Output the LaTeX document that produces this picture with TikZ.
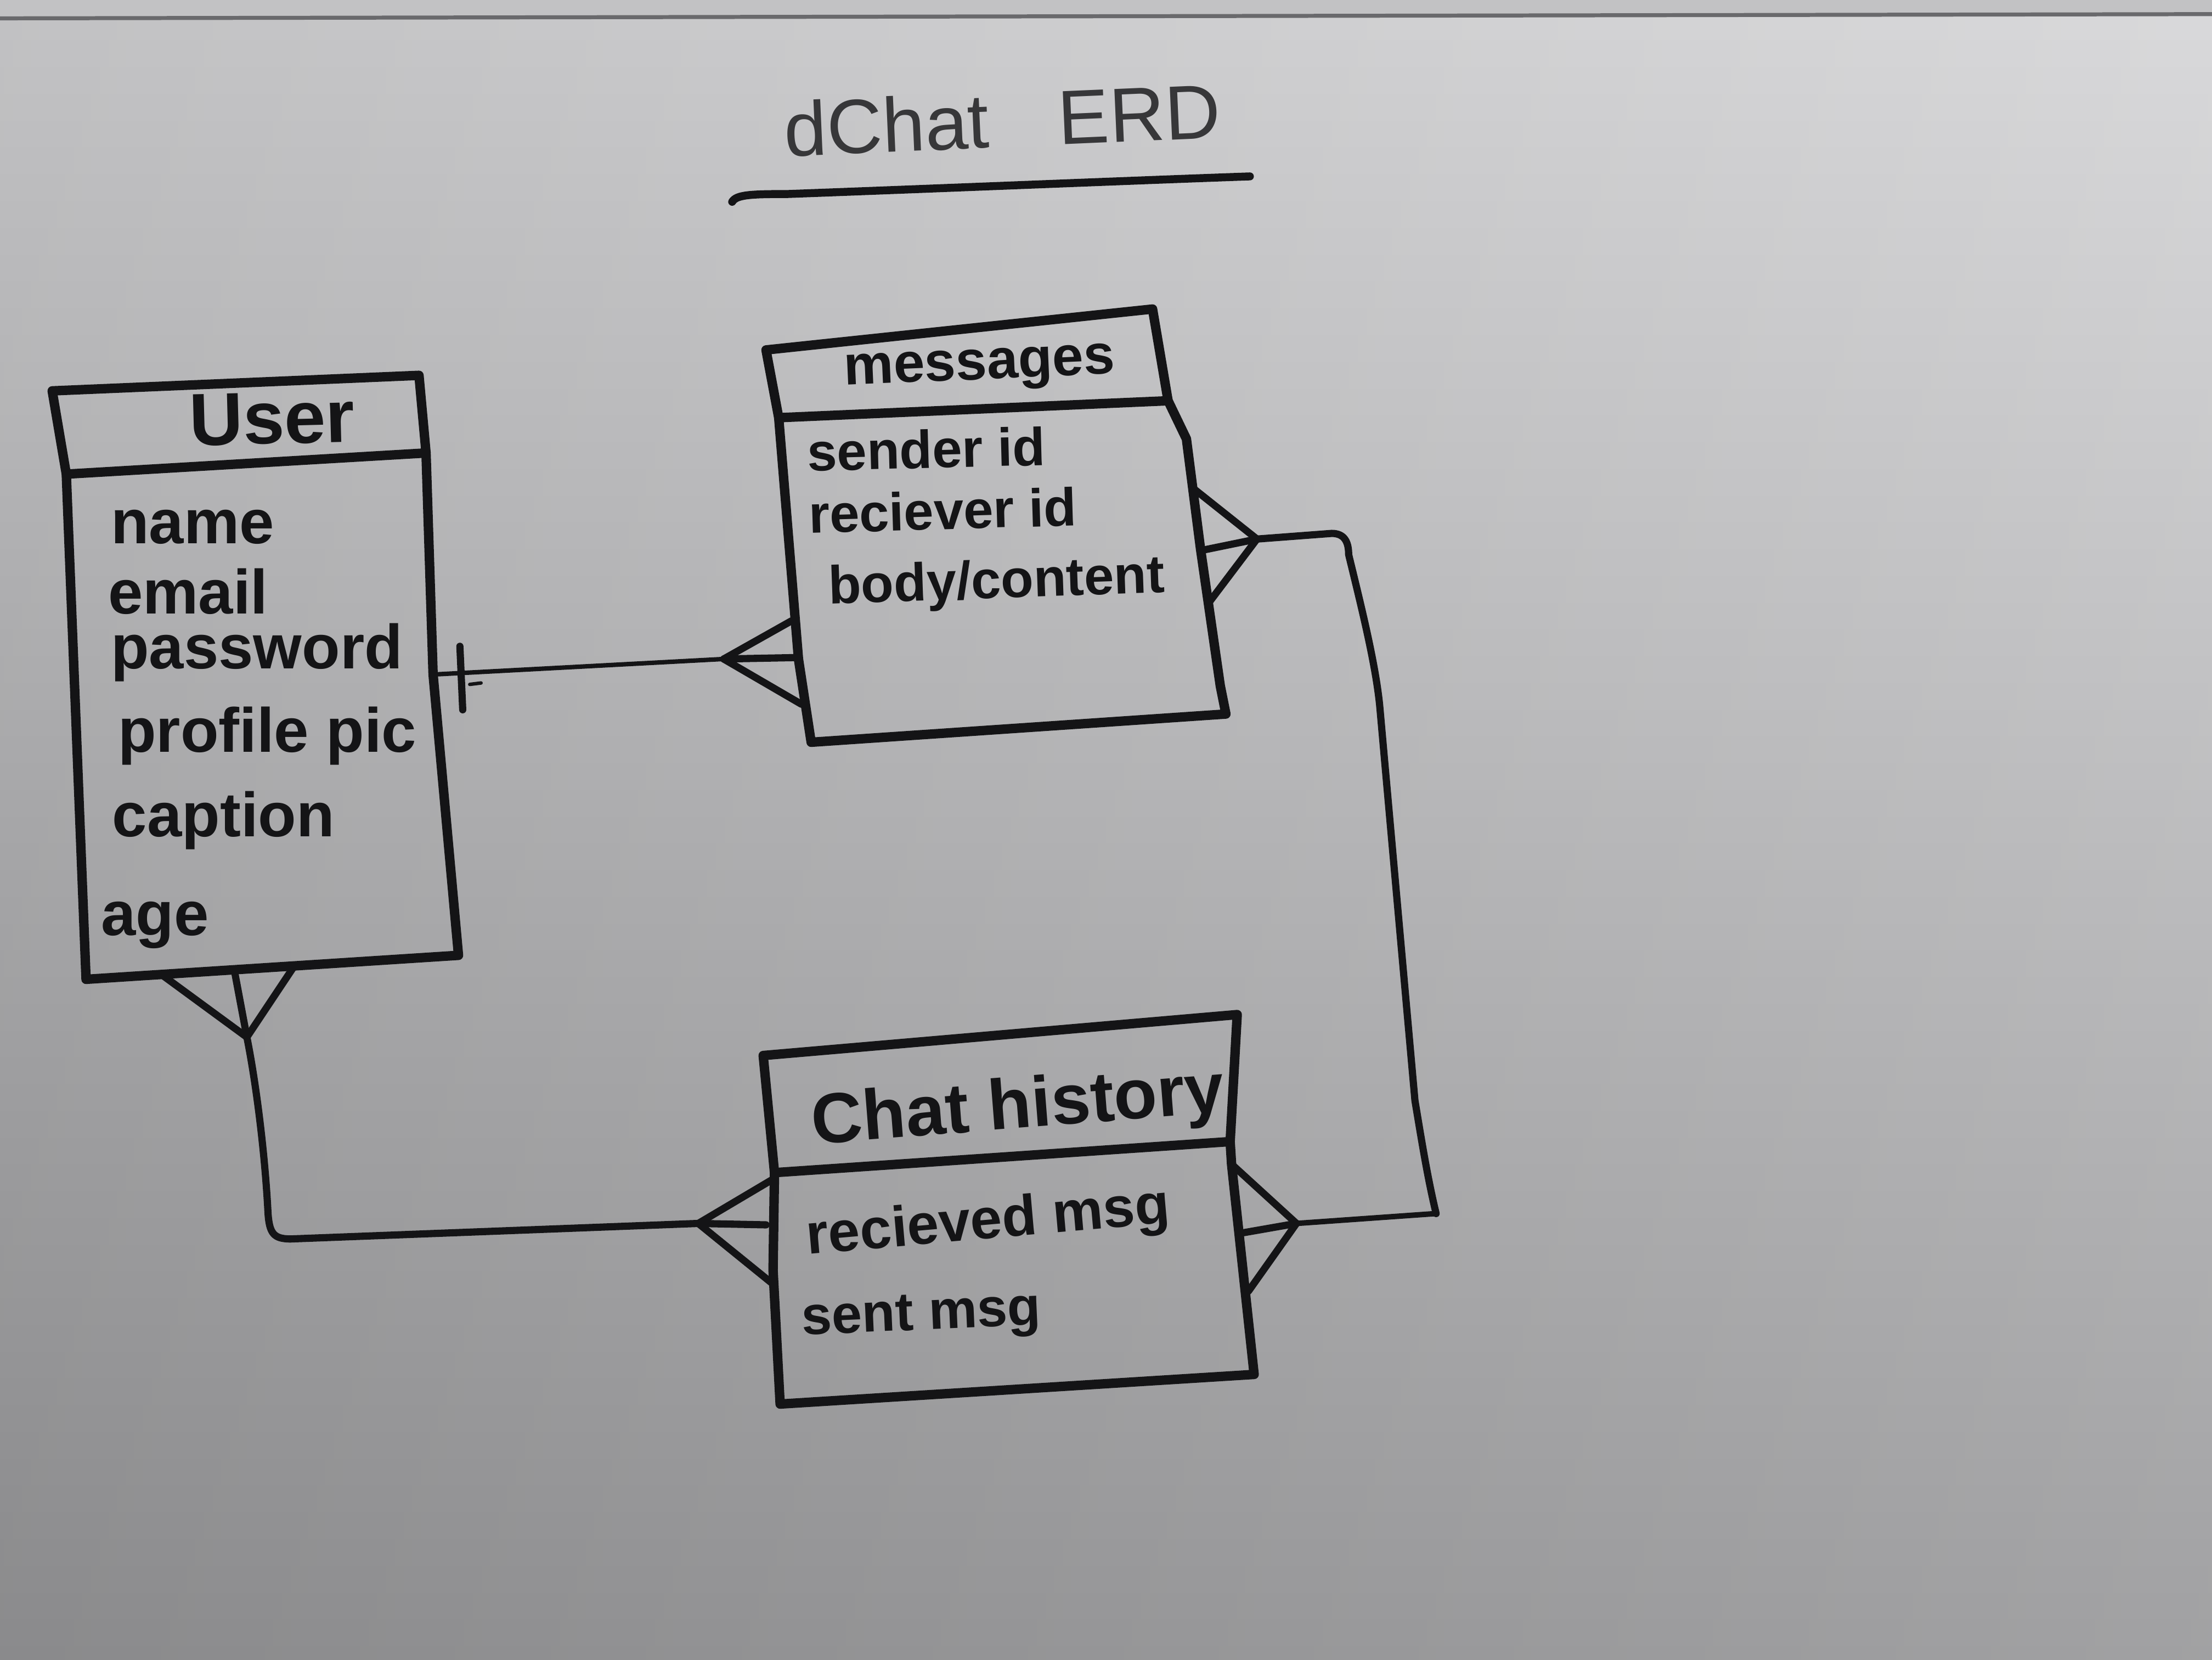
\documentclass[tikz,border=0pt]{standalone}
\usepackage{fontspec}
\setmainfont{Liberation Sans}
\definecolor{ink}{RGB}{20,20,22}
\definecolor{bgTop}{RGB}{214,214,216}
\definecolor{bgMid}{RGB}{200,200,202}
\definecolor{bgBot}{RGB}{152,152,154}
\definecolor{frameC}{RGB}{105,105,108}
\definecolor{frameTop}{RGB}{194,194,196}
\newcommand{\fsz}[1]{\fontsize{#1}{#1}\selectfont}
\begin{document}
\begin{tikzpicture}[x=0.1mm,y=-0.1mm,line cap=round,line join=round,
  box/.style={draw=ink,line width=1.9pt},
  link/.style={draw=ink,line width=1.45pt},
  thinlink/.style={draw=ink,line width=0.9pt},
  btxt/.style={anchor=base west,inner sep=0pt,text=ink,font=\bfseries\fsz{#1}},
  rtxt/.style={anchor=base west,inner sep=0pt,text=ink!85,font=\fsz{#1}}]
\useasboundingbox (0,0) rectangle (1568,1176);
% whiteboard background
\shade[top color=bgTop,middle color=bgMid,bottom color=bgBot] (0,0) rectangle (1568,1176);
\shade[left color=black,right color=white,opacity=0.09] (0,0) rectangle (1568,1176);
\fill[frameTop] (0,0) rectangle (1568,11);
\draw[frameC,line width=0.8pt] (0,13) -- (1568,10);

% ---------- title ----------
\node[rtxt=15.5,rotate=2.5] (title) at (556,111) {dChat\hspace{0.9em}ERD};
\coordinate (UL-a) at (519,143);
\coordinate (UL-b) at (886,125);
\draw[link,line width=1.6pt] (UL-a) .. controls (522,138) and (532,137.5) .. (558,137.5)
  .. controls (680,133) and (800,128) .. (UL-b);

% ---------- User ----------
\coordinate (U-tl) at (37,277);
\coordinate (U-tr) at (297,266);
\coordinate (U-hr) at (302,321);
\coordinate (U-r) at (307,478);
\coordinate (U-br) at (325,677);
\coordinate (U-bl) at (61,694);
\coordinate (U-hl) at (47,336);
\draw[box] (U-tl) -- (U-tr) -- (U-hr) -- (U-r) -- (U-br) -- (U-bl) -- (U-hl) -- cycle;
\draw[box] (U-hl) -- (U-hr);
\node[btxt=15,rotate=1.5] (U-title) at (134,316) {User};
\node[btxt=12.6] (U-a1) at (78,385) {name};
\node[btxt=12.6] (U-a2) at (76,435) {email};
\node[btxt=12.6] (U-a3) at (78,474) {password};
\node[btxt=12.6] (U-a4) at (83,533) {profile pic};
\node[btxt=12.6] (U-a5) at (79,593) {caption};
\node[btxt=12.6] (U-a6) at (71,663) {age};

% ---------- messages ----------
\coordinate (M-tl) at (543,248);
\coordinate (M-tr) at (817,219);
\coordinate (M-hr) at (828,284);
\coordinate (M-hl) at (552,296);
\draw[box] (M-tl) -- (M-tr) -- (M-hr) -- (841,311) -- (851,389) -- (865,486) -- (869,506)
  -- (575,526) -- (566,467) -- (M-hl) -- cycle;
\draw[box] (M-hl) -- (M-hr);
\node[btxt=11.3,rotate=2.5] (M-title) at (598,273) {messages};
\node[btxt=10.8,rotate=1.5] (M-a1) at (572,334) {sender id};
\node[btxt=10.8,rotate=1.7] (M-a2) at (573,378) {reciever id};
\node[btxt=10.8,rotate=2] (M-a3) at (587,428) {body/content};

% ---------- Chat history ----------
\coordinate (C-tl) at (541,748);
\coordinate (C-tr) at (877,719);
\coordinate (C-hr) at (872,809);
\coordinate (C-hl) at (549,831);
\draw[box] (C-tl) -- (C-tr) -- (C-hr) -- (873,825) -- (889,974) -- (553,995) -- (548,900) -- (C-hl) -- cycle;
\draw[box] (C-hl) -- (C-hr);
\node[btxt=14.3,rotate=4.5] (C-title) at (576,811) {Chat history};
\node[btxt=11.5,rotate=5] (C-a1) at (572,889) {recieved msg};
\node[btxt=11,rotate=2.5] (C-a2) at (568,946) {sent msg};

% ---------- User -- messages (one to many) ----------
\coordinate (UM-apex) at (513,467);
\coordinate (UM-p1) at (561,440);
\coordinate (UM-p2) at (564,466);
\coordinate (UM-p3) at (568,499);
\coordinate (UM-b1) at (326,458);
\coordinate (UM-b2) at (328,503);
\draw[thinlink] (U-r) -- (UM-apex);
\draw[link] (UM-p1) -- (UM-apex) -- (UM-p3);
\draw[link] (UM-apex) -- (UM-p2);
\draw[link] (UM-b1) -- (UM-b2);
\draw[thinlink,line width=0.7pt] (333,485) -- (341,484);

% ---------- User -- Chat history (many to many) ----------
\coordinate (UC-apex) at (175,735);
\coordinate (UC-p1) at (115,691);
\coordinate (UC-p2) at (166,687);
\coordinate (UC-p3) at (209,684);
\coordinate (CL-apex) at (495,867);
\coordinate (CL-p1) at (549,835);
\coordinate (CL-p2) at (543,868);
\coordinate (CL-p3) at (548,910);
\draw[link] (UC-p1) -- (UC-apex) -- (UC-p3);
\draw[link] (UC-p2) -- (UC-apex);
\draw[link] (UC-apex) .. controls (182,770) and (188,820) .. (190,860)
  .. controls (191,874) and (194,878) .. (206,878) -- (CL-apex);
\draw[link] (CL-p1) -- (CL-apex) -- (CL-p3);
\draw[link] (CL-apex) -- (CL-p2);

% ---------- messages -- Chat history (many to many) ----------
\coordinate (MC-apex) at (891,382);
\coordinate (MC-p1) at (847,347);
\coordinate (MC-p2) at (852,390);
\coordinate (MC-p3) at (857,427);
\coordinate (CR-apex) at (919,867);
\coordinate (CR-p1) at (873,825);
\coordinate (CR-p2) at (879,874);
\coordinate (CR-p3) at (885,915);
\draw[link] (MC-p1) -- (MC-apex) -- (MC-p3);
\draw[link] (MC-p2) -- (MC-apex);
\draw[link] (MC-apex) -- (944,378) .. controls (953,378) and (956,384) .. (956,393)
  .. controls (965,430) and (975,470) .. (978,500) -- (1003,780)
  .. controls (1008,810) and (1012,835) .. (1018,860);
\draw[thinlink,line width=1.1pt] (1018,860) -- (CR-apex);
\draw[link] (CR-p1) -- (CR-apex) -- (CR-p3);
\draw[link] (CR-apex) -- (CR-p2);
\end{tikzpicture}
\end{document}
